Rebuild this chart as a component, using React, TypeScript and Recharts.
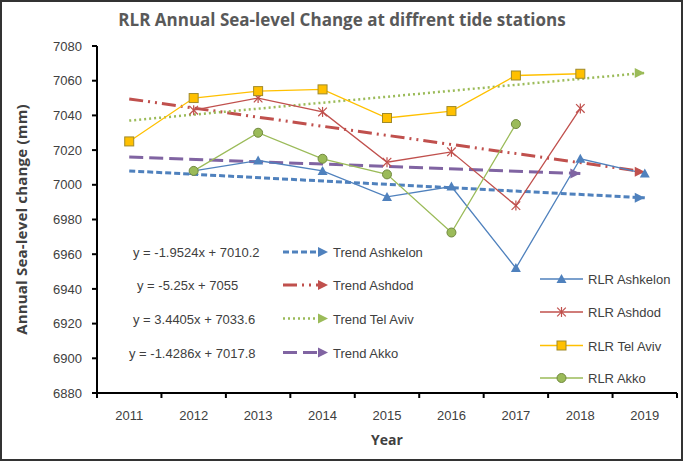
import { LineChart, Line, XAxis, YAxis, Legend } from "recharts";

const years = ["2011", "2012", "2013", "2014", "2015", "2016", "2017", "2018", "2019"];

// RLR annual means (mm)
const rlrAshkelon = [null, 7008, 7014, 7008, 6993, 6999, 6952, 7015, 7006.5];
const rlrAshdod = [null, 7043, 7050, 7042, 7013, 7019, 6988, 7044, null];
const rlrTelAviv = [7025, 7050, 7054, 7055, 7038.5, 7042.5, 7063, 7064, null];
const rlrAkko = [null, 7008, 7030, 7015, 7006, 6972.5, 7035, null, null];

// linear trends: only the two ends are kept, the line joins them
const trendAshkelon = [7008, null, null, null, null, null, null, null, 6992.5];
const trendAshdod = [7049.5, null, null, null, null, null, null, null, 7007.5];
const trendTelAviv = [7037, null, null, null, null, null, null, null, 7064.5];
const trendAkko = [7016, null, null, null, null, null, null, 7006.5, null];

const equations = [
  "y = -1.9524x + 7010.2",
  "y = -5.25x + 7055",
  "y = 3.4405x + 7033.6",
  "y = -1.4286x + 7017.8",
];

const yTicks = [6880, 6900, 6920, 6940, 6960, 6980, 7000, 7020, 7040, 7060, 7080];

const data = years.map((year, i) => ({
  year,
  trendAshkelon: trendAshkelon[i],
  trendAshdod: trendAshdod[i],
  trendTelAviv: trendTelAviv[i],
  trendAkko: trendAkko[i],
  rlrAshkelon: rlrAshkelon[i],
  rlrAshdod: rlrAshdod[i],
  rlrTelAviv: rlrTelAviv[i],
  rlrAkko: rlrAkko[i],
}));

const W = 685;
const H = 462;
const MARGIN = { top: 46, right: 8, bottom: 0, left: 0 };
const Y_AXIS_W = 97;
const X_AXIS_H = 69;
const PLOT_W = W - MARGIN.left - MARGIN.right - Y_AXIS_W;
const BAND = PLOT_W / years.length;

const TEXT = "#404040";
const FONT = "'Liberation Sans', Arial, sans-serif";
const BOLD_FONT = "'Open Sans', sans-serif";

const lastIndex = (arr: (number | null)[]) => {
  let k = -1;
  arr.forEach((v, i) => {
    if (v != null) k = i;
  });
  return k;
};

// ---- markers ----
const triangle = (cx: number, cy: number, key?: any) => (
  <path key={key} d={`M${cx},${cy - 5} L${cx + 5},${cy + 4} L${cx - 5},${cy + 4} Z`} fill="#4F81BD" />
);
const star = (cx: number, cy: number, key?: any) => (
  <g key={key} stroke="#C0504D" strokeWidth={1.2}>
    <line x1={cx} y1={cy - 5} x2={cx} y2={cy + 5} />
    <line x1={cx - 4.3} y1={cy - 4.3} x2={cx + 4.3} y2={cy + 4.3} />
    <line x1={cx - 4.3} y1={cy + 4.3} x2={cx + 4.3} y2={cy - 4.3} />
  </g>
);
const square = (cx: number, cy: number, key?: any) => (
  <rect key={key} x={cx - 4.5} y={cy - 4.5} width={9} height={9} fill="#FFC000" stroke="#A08A2A" strokeWidth={1} />
);
const circle = (cx: number, cy: number, key?: any) => (
  <circle key={key} cx={cx} cy={cy} r={4.5} fill="#9BBB59" stroke="#71893F" strokeWidth={1} />
);
const arrow = (cx: number, cy: number, color: string, key?: any) => (
  <path key={key} d={`M${cx},${cy} L${cx - 10},${cy - 5} L${cx - 10},${cy + 5} Z`} fill={color} />
);

const dotFrom = (draw: (cx: number, cy: number, key?: any) => any) => (p: any) => {
  if (p.cx == null || p.cy == null || p.value == null || isNaN(p.cy)) return <g key={p.index} />;
  return draw(p.cx, p.cy, p.index);
};

const arrowDot = (color: string, last: number) => (p: any) => {
  if (p.index !== last || p.cy == null || isNaN(p.cy)) return <g key={p.index} />;
  return arrow(p.cx, p.cy, color, p.index);
};

const trendSeries = [
  { key: "trendAshkelon", name: "Trend Ashkelon", color: "#4F81BD", dash: "6 3", width: 3, last: lastIndex(trendAshkelon) },
  { key: "trendAshdod", name: "Trend Ashdod", color: "#C0504D", dash: "14 5 2 5 2 5", width: 3, last: lastIndex(trendAshdod) },
  { key: "trendTelAviv", name: "Trend Tel Aviv", color: "#9BBB59", dash: "2 3", width: 2.5, last: lastIndex(trendTelAviv) },
  { key: "trendAkko", name: "Trend Akko", color: "#8064A2", dash: "14 6", width: 3, last: lastIndex(trendAkko) },
];

const rlrSeries = [
  { key: "rlrAshkelon", name: "RLR Ashkelon", color: "#4F81BD", marker: triangle },
  { key: "rlrAshdod", name: "RLR Ashdod", color: "#C0504D", marker: star },
  { key: "rlrTelAviv", name: "RLR Tel Aviv", color: "#FFC000", marker: square },
  { key: "rlrAkko", name: "RLR Akko", color: "#9BBB59", marker: circle },
];

// legend layout
const trendRowsY = [252, 285, 318.5, 352.5];
const eqX = [133, 137, 133, 129];
const rlrRowsY = [279, 312, 345.5, 378];

const YearTick = (props: any) => {
  const { x, y, payload, index } = props;
  return (
    <g>
      <line x1={x - BAND / 2} x2={x - BAND / 2} y1={y} y2={y + 5} stroke="#000" strokeWidth={2} />
      {index === years.length - 1 && (
        <line x1={x + BAND / 2} x2={x + BAND / 2} y1={y} y2={y + 5} stroke="#000" strokeWidth={2} />
      )}
      <text x={x} y={y + 27} textAnchor="middle" fill={TEXT} fontSize={13} fontFamily={FONT}>
        {payload.value}
      </text>
    </g>
  );
};

const renderLegend = () => (
  <svg width={W} height={H} style={{ pointerEvents: "none" }}>
    {trendSeries.map((s, i) => {
      const y = trendRowsY[i];
      return (
        <g key={s.key}>
          <text x={eqX[i]} y={y + 5} fill={TEXT} fontSize={13} fontFamily={FONT}>
            {equations[i]}
          </text>
          <line x1={283} x2={318} y1={y} y2={y} stroke={s.color} strokeWidth={s.width} strokeDasharray={s.dash} />
          {arrow(328, y, s.color)}
          <text x={333} y={y + 5} fill={TEXT} fontSize={13} fontFamily={FONT}>
            {s.name}
          </text>
        </g>
      );
    })}
    {rlrSeries.map((s, i) => {
      const y = rlrRowsY[i];
      return (
        <g key={s.key}>
          <line x1={540} x2={583} y1={y} y2={y} stroke={s.color} strokeWidth={1.3} />
          {s.marker(561.5, y)}
          <text x={588} y={y + 5} fill={TEXT} fontSize={13} fontFamily={FONT}>
            {s.name}
          </text>
        </g>
      );
    })}
  </svg>
);

export default function App() {
  return (
    <div style={{ position: "absolute", left: 0, top: 0, width: W, height: H, background: "#fff" }}>
      <div
        style={{
          position: "absolute",
          left: 0,
          top: 0,
          width: 683,
          height: 461,
          border: "2px solid #333",
          boxSizing: "border-box",
        }}
      />
      <div
        style={{
          position: "absolute",
          left: 0,
          top: 8,
          width: 684,
          textAlign: "center",
          fontFamily: BOLD_FONT,
          fontWeight: 700,
          fontSize: 17,
          color: "#595959",
        }}
      >
        RLR Annual Sea-level Change at diffrent tide stations
      </div>
      <LineChart width={W} height={H} data={data} margin={MARGIN}>
        <XAxis
          dataKey="year"
          scale="band"
          height={X_AXIS_H}
          interval={0}
          tickLine={false}
          tickSize={0}
          tickMargin={0}
          axisLine={{ stroke: "#000", strokeWidth: 2 }}
          tick={<YearTick />}
          label={{
            content: (p: any) => (
              <text
                x={p.viewBox.x + p.viewBox.width / 2}
                y={p.viewBox.y + 52}
                textAnchor="middle"
                fill={TEXT}
                fontSize={14}
                fontWeight={700}
                fontFamily={BOLD_FONT}
              >
                Year
              </text>
            ),
          }}
        />
        <YAxis
          type="number"
          width={Y_AXIS_W}
          domain={[6880, 7080]}
          ticks={yTicks}
          interval={0}
          tickSize={5}
          tickMargin={10}
          axisLine={{ stroke: "#000", strokeWidth: 2 }}
          tickLine={{ stroke: "#000", strokeWidth: 2 }}
          tick={{ fill: TEXT, fontSize: 13, fontFamily: FONT }}
          label={{
            content: (p: any) => {
              const cx = p.viewBox.x + 21;
              const cy = p.viewBox.y + p.viewBox.height / 2;
              return (
                <text
                  x={cx}
                  y={cy}
                  transform={`rotate(-90 ${cx} ${cy})`}
                  textAnchor="middle"
                  dominantBaseline="central"
                  fill={TEXT}
                  fontSize={15}
                  fontWeight={700}
                  letterSpacing={0.2}
                  fontFamily={BOLD_FONT}
                >
                  Annual Sea-level change  (mm)
                </text>
              );
            },
          }}
        />
        {trendSeries.map((s) => (
          <Line
            key={s.key}
            dataKey={s.key}
            name={s.name}
            stroke={s.color}
            strokeWidth={s.width}
            strokeDasharray={s.dash}
            connectNulls
            dot={arrowDot(s.color, s.last)}
            activeDot={false}
            isAnimationActive={false}
          />
        ))}
        {rlrSeries.map((s) => (
          <Line
            key={s.key}
            dataKey={s.key}
            name={s.name}
            stroke={s.color}
            strokeWidth={1.3}
            dot={dotFrom(s.marker)}
            activeDot={false}
            isAnimationActive={false}
          />
        ))}
        <Legend
          layout="horizontal"
          verticalAlign="middle"
          align="center"
          content={renderLegend}
          wrapperStyle={{ left: 0, top: 0, width: W, height: H, pointerEvents: "none" }}
        />
      </LineChart>
    </div>
  );
}
